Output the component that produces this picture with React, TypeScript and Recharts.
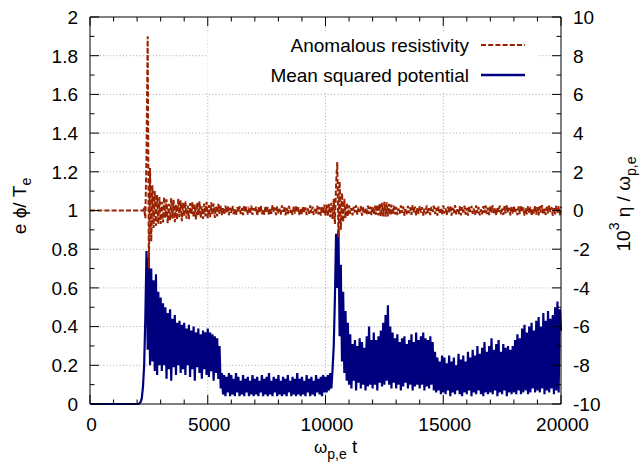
import React from "react";
import {
  ComposedChart,
  Line,
  XAxis,
  YAxis,
  CartesianGrid,
  ReferenceLine,
} from "recharts";

// samples every 50 omega_pe t, one row = 1000 time units
const SAMPLE_STEP = 50;

// mean squared potential, e phi / T_e (left axis)
const phi0to5k = [
  0, 0, 0, 0, 0, 0, 0, 0, 0, 0, 0, 0, 0, 0, 0, 0, 0, 0, 0, 0,
  0, 0, 0, 0, 0, 0, 0, 0, 0, 0, 0, 0, 0, 0, 0, 0, 0, 0, 0, 0,
  0, 0, 0.003, 0.01, 0.03, 0.09, 0.2, 0.45, 0.79, 0.28, 0.76, 0.2, 0.7, 0.22, 0.64, 0.17, 0.67, 0.15, 0.58, 0.2,
  0.55, 0.17, 0.52, 0.2, 0.5, 0.13, 0.47, 0.18, 0.49, 0.12, 0.44, 0.19, 0.46, 0.15, 0.42, 0.2, 0.43, 0.16, 0.41, 0.18,
  0.42, 0.15, 0.39, 0.2, 0.41, 0.14, 0.38, 0.18, 0.4, 0.12, 0.37, 0.19, 0.39, 0.16, 0.36, 0.13, 0.38, 0.18, 0.37, 0.15,
];
const phi5to10k = [
  0.39, 0.14, 0.37, 0.17, 0.36, 0.12, 0.35, 0.16, 0.34, 0.13, 0.3, 0.08, 0.16, 0.05, 0.15, 0.04, 0.14, 0.06, 0.16, 0.04,
  0.15, 0.05, 0.13, 0.04, 0.16, 0.06, 0.14, 0.04, 0.12, 0.05, 0.15, 0.04, 0.13, 0.06, 0.14, 0.04, 0.12, 0.05, 0.15, 0.04,
  0.13, 0.05, 0.14, 0.04, 0.12, 0.06, 0.15, 0.04, 0.13, 0.05, 0.14, 0.04, 0.16, 0.05, 0.12, 0.04, 0.14, 0.06, 0.13, 0.04,
  0.15, 0.05, 0.12, 0.04, 0.14, 0.05, 0.13, 0.04, 0.15, 0.06, 0.12, 0.04, 0.14, 0.05, 0.13, 0.04, 0.16, 0.05, 0.13, 0.04,
  0.14, 0.05, 0.12, 0.04, 0.15, 0.06, 0.13, 0.04, 0.14, 0.05, 0.12, 0.04, 0.15, 0.06, 0.13, 0.05, 0.14, 0.04, 0.15, 0.06,
];
const phi10to15k = [
  0.14, 0.06, 0.15, 0.07, 0.16, 0.08, 0.18, 0.3, 0.55, 0.88, 0.6, 0.9, 0.35, 0.72, 0.22, 0.58, 0.16, 0.48, 0.12, 0.42,
  0.1, 0.36, 0.08, 0.31, 0.12, 0.33, 0.07, 0.3, 0.11, 0.34, 0.08, 0.32, 0.1, 0.29, 0.07, 0.35, 0.09, 0.4, 0.1, 0.33,
  0.08, 0.37, 0.1, 0.33, 0.07, 0.35, 0.11, 0.38, 0.09, 0.42, 0.1, 0.46, 0.12, 0.51, 0.1, 0.4, 0.08, 0.37, 0.11, 0.34,
  0.08, 0.36, 0.1, 0.32, 0.07, 0.34, 0.09, 0.35, 0.11, 0.31, 0.08, 0.33, 0.1, 0.36, 0.07, 0.32, 0.09, 0.37, 0.1, 0.33,
  0.08, 0.35, 0.1, 0.37, 0.07, 0.34, 0.09, 0.33, 0.08, 0.35, 0.1, 0.32, 0.07, 0.27, 0.06, 0.24, 0.07, 0.22, 0.05, 0.25,
];
const phi15to20k = [
  0.06, 0.24, 0.05, 0.21, 0.07, 0.25, 0.04, 0.22, 0.06, 0.24, 0.05, 0.2, 0.07, 0.26, 0.05, 0.23, 0.04, 0.25, 0.06, 0.22,
  0.05, 0.27, 0.07, 0.24, 0.04, 0.28, 0.06, 0.25, 0.05, 0.3, 0.07, 0.26, 0.05, 0.29, 0.04, 0.32, 0.06, 0.27, 0.05, 0.3,
  0.06, 0.34, 0.05, 0.28, 0.07, 0.31, 0.04, 0.33, 0.06, 0.27, 0.05, 0.31, 0.07, 0.29, 0.04, 0.3, 0.06, 0.28, 0.05, 0.3,
  0.06, 0.33, 0.05, 0.36, 0.07, 0.34, 0.05, 0.39, 0.06, 0.41, 0.07, 0.37, 0.05, 0.4, 0.06, 0.42, 0.08, 0.38, 0.06, 0.43,
  0.07, 0.45, 0.06, 0.4, 0.08, 0.47, 0.05, 0.43, 0.07, 0.48, 0.06, 0.44, 0.08, 0.46, 0.05, 0.5, 0.07, 0.53, 0.06, 0.49,
  0.38,
];

// anomalous resistivity, 10^3 eta / omega_pe (right axis)
const eta0to5k = [
  0, 0, 0, 0, 0, 0, 0, 0, 0, 0, 0, 0, 0, 0, 0, 0, 0, 0, 0, 0,
  0, 0, 0, 0, 0, 0, 0, 0, 0, 0, 0, 0, 0, 0, 0, 0, 0, 0, 0, 0,
  0, 0, 0, 0, 0, 0, 0.1, -0.4, 3, 9, -3, 2.2, -1.6, 1.3, -0.9, 1, -0.8, 0.8, -0.7, 0.7,
  -0.7, 0.45, -0.62, 0.7, -0.38, 0.58, -0.66, 0.35, -0.5, 0.64, -0.42, 0.55, -0.6, 0.3, -0.48, 0.6, -0.35, 0.52, -0.55, 0.4,
  -0.3, 0.48, -0.42, 0.25, -0.45, 0.38, -0.2, 0.44, -0.36, 0.3, -0.46, 0.4, -0.25, 0.47, -0.38, 0.22, -0.43, 0.36, -0.3, 0.45,
];
const eta5to10k = [
  -0.4, 0.28, -0.35, 0.42, -0.22, 0.36, -0.38, 0.2, -0.3, 0.34, -0.18, 0.26, -0.24, 0.12, -0.2, 0.25, -0.1, 0.22, -0.24, 0.15,
  -0.12, 0.24, -0.2, 0.08, -0.26, 0.17, -0.06, 0.22, -0.18, 0.13, -0.24, 0.27, -0.1, 0.19, -0.21, 0.05, -0.15, 0.25, -0.23, 0.12,
  -0.08, 0.2, -0.27, 0.16, -0.13, 0.26, -0.19, 0.07, -0.22, 0.23, -0.11, 0.18, -0.25, 0.1, -0.17, 0.28, -0.09, 0.15, -0.24, 0.21,
  -0.14, 0.09, -0.21, 0.26, -0.07, 0.19, -0.25, 0.14, -0.18, 0.24, -0.12, 0.06, -0.23, 0.2, -0.16, 0.27, -0.1, 0.17, -0.26, 0.13,
  -0.19, 0.23, -0.09, 0.16, -0.24, 0.11, -0.17, 0.27, -0.13, 0.2, -0.22, 0.08, -0.15, 0.25, -0.2, 0.18, -0.27, 0.22, -0.16, 0.3,
];
const eta10to15k = [
  -0.25, 0.3, -0.3, 0.35, -0.35, 0.4, -0.45, 0.6, -0.7, 1.4, 2.5, -1.4, 1.5, -1, 0.9, -0.6, 0.6, -0.4, 0.4, -0.3,
  0.26, -0.18, 0.12, -0.25, 0.2, -0.1, 0.27, -0.21, 0.15, -0.08, 0.23, -0.26, 0.18, -0.13, 0.09, -0.22, 0.25, -0.17, 0.2, -0.24,
  0.22, -0.2, 0.25, -0.22, 0.3, -0.25, 0.35, -0.3, 0.4, -0.3, 0.45, -0.32, 0.42, -0.3, 0.35, -0.25, 0.3, -0.22, 0.25, -0.2,
  0.18, -0.24, 0.1, -0.17, 0.26, -0.12, 0.21, -0.27, 0.07, -0.19, 0.24, -0.14, 0.16, -0.23, 0.28, -0.09, 0.2, -0.25, 0.13, -0.18,
  0.23, -0.11, 0.17, -0.26, 0.09, -0.2, 0.27, -0.15, 0.12, -0.24, 0.19, -0.07, 0.25, -0.18, 0.14, -0.27, 0.21, -0.12, 0.08, -0.22,
];
const eta15to20k = [
  0.26, -0.16, 0.11, -0.23, 0.2, -0.09, 0.24, -0.26, 0.15, -0.13, 0.28, -0.2, 0.07, -0.18, 0.22, -0.25, 0.17, -0.1, 0.25, -0.21,
  0.13, -0.27, 0.19, -0.08, 0.24, -0.17, 0.1, -0.22, 0.27, -0.14, 0.18, -0.25, 0.06, -0.2, 0.23, -0.12, 0.26, -0.19, 0.15, -0.24,
  0.21, -0.1, 0.27, -0.2, 0.12, -0.26, 0.17, -0.07, 0.25, -0.19, 0.09, -0.23, 0.22, -0.15, 0.28, -0.11, 0.14, -0.25, 0.2, -0.17,
  0.25, -0.13, 0.08, -0.24, 0.21, -0.18, 0.27, -0.09, 0.16, -0.26, 0.11, -0.2, 0.24, -0.14, 0.19, -0.27, 0.1, -0.16, 0.26, -0.21,
  0.17, -0.25, 0.23, -0.11, 0.28, -0.19, 0.09, -0.23, 0.2, -0.15, 0.26, -0.08, 0.18, -0.27, 0.12, -0.2, 0.25, -0.13, 0.22, -0.26,
  0.2,
];

const timeTicks = [
  0, 1000, 2000, 3000, 4000, 5000, 6000, 7000, 8000, 9000, 10000,
  11000, 12000, 13000, 14000, 15000, 16000, 17000, 18000, 19000, 20000,
];
const timeLabels = [0, 5000, 10000, 15000, 20000];
const phiTicks = [
  0, 0.1, 0.2, 0.3, 0.4, 0.5, 0.6, 0.7, 0.8, 0.9, 1,
  1.1, 1.2, 1.3, 1.4, 1.5, 1.6, 1.7, 1.8, 1.9, 2,
];
const phiLabels = [0, 0.2, 0.4, 0.6, 0.8, 1, 1.2, 1.4, 1.6, 1.8, 2];
const etaTicks = [
  -10, -9, -8, -7, -6, -5, -4, -3, -2, -1, 0, 1, 2, 3, 4, 5, 6, 7, 8, 9, 10,
];
const etaLabels = [-10, -8, -6, -4, -2, 0, 2, 4, 6, 8, 10];
const gridTime = [5000, 10000, 15000];
const gridPhi = [0.2, 0.4, 0.6, 0.8, 1, 1.2, 1.4, 1.6, 1.8];

const ETA_NAME = "Anomalous resistivity";
const PHI_NAME = "Mean squared potential";
const ETA_COLOR = "#992200";
const PHI_COLOR = "#00007f";
const ETA_DASH = "5 2.2";

const phi = [...phi0to5k, ...phi5to10k, ...phi10to15k, ...phi15to20k];
const eta = [...eta0to5k, ...eta5to10k, ...eta10to15k, ...eta15to20k];
const data = phi.map((v, i) => ({ t: i * SAMPLE_STEP, phi: v, eta: eta[i] }));

const W = 644;
const H = 468;
const MARGIN = { top: 17, right: 0, bottom: 0, left: 0 };
const FONT = "'Liberation Sans', Arial, Helvetica, sans-serif";
const FS = 19;
const MAJOR = 9;
const MINOR = 4.5;

const isIn = (list: number[], v: number) =>
  list.some((m) => Math.abs(m - v) < 1e-9);

function TimeTick(props: any) {
  const { x, y, payload } = props;
  const major = isIn(timeLabels, payload.value);
  const len = major ? MAJOR : MINOR;
  return (
    <g>
      <line x1={x} x2={x} y1={y} y2={y - len} stroke="#000" />
      <line x1={x} x2={x} y1={MARGIN.top} y2={MARGIN.top + len} stroke="#000" />
      {major && (
        <text x={x + 1.5} y={y + 27} textAnchor="middle" fontFamily={FONT} fontSize={FS} fill="#000">
          {payload.value}
        </text>
      )}
    </g>
  );
}

function PhiTick(props: any) {
  const { x, y, payload } = props;
  const major = isIn(phiLabels, payload.value);
  return (
    <g>
      <line x1={x} x2={x + (major ? MAJOR : MINOR)} y1={y} y2={y} stroke="#000" />
      {major && (
        <text x={x - 12} y={y + 6.8} textAnchor="end" fontFamily={FONT} fontSize={FS} fill="#000">
          {String(payload.value)}
        </text>
      )}
    </g>
  );
}

function EtaTick(props: any) {
  const { x, y, payload } = props;
  const major = isIn(etaLabels, payload.value);
  return (
    <g>
      <line x1={x} x2={x - (major ? MAJOR : MINOR)} y1={y} y2={y} stroke="#000" />
      {major && (
        <text x={x + 12} y={y + 6.8} textAnchor="start" fontFamily={FONT} fontSize={FS} fill="#000">
          {String(payload.value)}
        </text>
      )}
    </g>
  );
}

export default function App() {
  return (
    <div style={{ position: "absolute", left: 0, top: 0, width: W, height: H, background: "#fff" }}>
      <ComposedChart width={W} height={H} data={data} margin={MARGIN}>
        <CartesianGrid
          xAxisId="t"
          yAxisId="phi"
          verticalValues={gridTime}
          horizontalValues={gridPhi}
          stroke="#aaaaaa"
          strokeDasharray="1 2.3"
        />
        <XAxis
          xAxisId="t"
          dataKey="t"
          type="number"
          domain={[0, 20000]}
          ticks={timeTicks}
          interval={0}
          height={64}
          tickSize={0}
          tickMargin={0}
          tickLine={false}
          axisLine={{ stroke: "#000" }}
          tick={(p: any) => <TimeTick {...p} />}
        />
        <YAxis
          yAxisId="phi"
          orientation="left"
          type="number"
          domain={[0, 2]}
          ticks={phiTicks}
          interval={0}
          width={90}
          tickSize={0}
          tickMargin={0}
          tickLine={false}
          axisLine={{ stroke: "#000" }}
          tick={(p: any) => <PhiTick {...p} />}
        />
        <YAxis
          yAxisId="eta"
          orientation="right"
          type="number"
          domain={[-10, 10]}
          ticks={etaTicks}
          interval={0}
          width={83}
          tickSize={0}
          tickMargin={0}
          tickLine={false}
          axisLine={{ stroke: "#000" }}
          tick={(p: any) => <EtaTick {...p} />}
        />
        <ReferenceLine xAxisId="t" yAxisId="phi" y={2} stroke="#000" />
        <Line
          xAxisId="t"
          yAxisId="phi"
          dataKey="phi"
          name={PHI_NAME}
          type="linear"
          stroke={PHI_COLOR}
          strokeWidth={2.2}
          dot={false}
          activeDot={false}
          isAnimationActive={false}
        />
        <Line
          xAxisId="t"
          yAxisId="eta"
          dataKey="eta"
          name={ETA_NAME}
          type="linear"
          stroke={ETA_COLOR}
          strokeWidth={2}
          strokeDasharray={ETA_DASH}
          dot={false}
          activeDot={false}
          isAnimationActive={false}
        />
      </ComposedChart>

      <svg
        width={W}
        height={H}
        style={{ position: "absolute", left: 0, top: 0, pointerEvents: "none" }}
        fontFamily={FONT}
        fontSize={FS}
        fill="#000"
      >
        {/* legend */}
        <rect x={207.5} y={33} width={330} height={60} fill="#fff" />
        <text x={469} y={51.7} textAnchor="end">{ETA_NAME}</text>
        <line x1={481} x2={525} y1={45} y2={45} stroke={ETA_COLOR} strokeWidth={2} strokeDasharray={ETA_DASH} />
        <text x={469} y={81.5} textAnchor="end">{PHI_NAME}</text>
        <line x1={481} x2={525} y1={75} y2={75} stroke={PHI_COLOR} strokeWidth={2.5} />

        {/* axis titles */}
        <text transform="translate(25.5,206) rotate(-90)" textAnchor="middle">
          e ϕ/ T<tspan dy={5} fontSize={14}>e</tspan>
        </text>
        <text transform="translate(630,204) rotate(-90)" textAnchor="middle">
          10<tspan dy={-11} fontSize={14}>3</tspan>
          <tspan dy={11}> η / ω</tspan>
          <tspan dy={6} fontSize={14}>p,e</tspan>
        </text>
        <text x={314} y={453}>
          <tspan fontSize={17}>ω</tspan>
          <tspan dy={6} fontSize={14}>p,e</tspan>
          <tspan dy={-6}> t</tspan>
        </text>
      </svg>
    </div>
  );
}
